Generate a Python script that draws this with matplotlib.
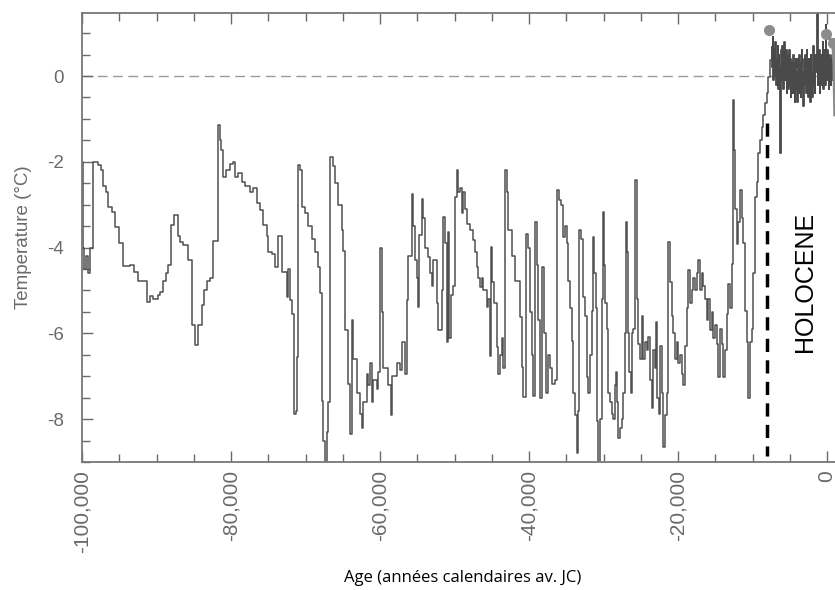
import matplotlib
matplotlib.use("Agg")
import matplotlib.pyplot as plt
from matplotlib.ticker import FuncFormatter, MultipleLocator

# Glacial part of the temperature record (years relative to present, deg C)
glacial_age = [
    -100000, -99930, -99730, -99460, -99190, -98930, -98560, -97810, -97490, -97220,
    -96780, -96470, -96010, -95570, -94990, -94540, -93560, -92980, -92440, -91320,
    -90870, -90510, -89760, -89530, -89090, -88720, -88420, -88090, -87610, -87150,
    -86850, -86400, -85730, -85280, -84830, -84390, -83930, -83620, -83260, -82820,
    -82380, -81790, -81540, -81340, -81030, -80710, -80130, -79690, -79460, -79020,
    -78560, -78120, -77450, -77010, -76550, -76110, -75660, -75210, -74990, -74540,
    -74090, -73730, -73110, -72520, -72310, -72080, -71770, -71580, -71310, -71180,
    -70970, -70740, -70510, -70070, -69620, -69170, -68720, -68280, -68050, -67830,
    -67610, -67380, -67150, -66940, -66710, -66270, -66040, -65600, -65140, -64930,
    -64700, -64260, -64030, -63800, -63580, -63130, -62680, -62460, -62240, -61790,
    -61570, -61340, -61110, -60900, -60440, -60230, -60000, -59770, -59560, -58890,
    -58560, -58430, -57760, -57310, -57090, -56640, -56420, -56200, -55740, -55530,
    -55300, -55070, -54940, -54720, -54400, -54190, -53960, -53520, -53290, -53060,
    -52850, -52390, -52170, -51720, -51590, -51270, -51050, -50910, -50700, -50510,
    -50240, -49930, -49700, -49490, -49260, -49030, -48820, -48590, -48360, -47920,
    -47480, -47250, -47020, -46810, -46580, -46350, -46140, -45680, -45470, -45240,
    -45100, -44930, -44660, -44330, -44120, -43890, -43660, -43450, -43220, -42990,
    -42780, -42320, -41880, -41210, -40980, -40760, -40440, -40090, -39860, -39640,
    -39420, -39190, -38960, -38750, -38520, -38210, -37940, -37760, -37490, -37180,
    -36950, -36510, -36280, -35970, -35700, -35390, -35170, -34940, -34720, -34500,
    -34270, -34050, -33820, -33600, -33460, -33290, -33020, -32710, -32480, -32250,
    -32040, -31810, -31580, -31450, -31240, -31010, -30830, -30700, -30470, -30240,
    -30110, -29930, -29800, -29570, -29350, -29130, -28900, -28680, -28450, -28320,
    -28140, -28010, -27780, -27560, -27330, -27110, -26980, -26800, -26660, -26530,
    -26350, -26210, -26000, -25770, -25540, -25330, -25100, -24870, -24660, -24430,
    -24200, -23980, -23760, -23530, -23310, -23080, -22950, -22780, -22590, -22410,
    -22190, -21970, -21740, -21520, -21300, -21070, -20850, -20620, -20400, -20180,
    -19960, -19730, -19500, -19290, -19060, -18830, -18620, -18390, -18170, -17940,
    -17710, -17490, -17270, -17050, -16820, -16600, -16370, -16150, -15930, -15700,
    -15480, -15260, -15030, -14800, -14590, -14360, -14130, -13920, -13690, -13460,
    -13250, -13020, -12790, -12660, -12480, -12310, -12120, -11900, -11680, -11450,
    -11230, -11000, -10780, -10560, -10330, -10110, -9890, -9660, -9440, -9220,
    -8990, -8760, -8550, -8320, -8090, -7880, -7650, -7420,
]
glacial_temp = [
    -2.0, -4.0, -4.5, -4.2, -4.6, -4.0, -2.0, -2.08, -2.2, -2.57,
    -2.7, -3.05, -3.17, -3.52, -3.9, -4.42, -4.4, -4.57, -4.77, -5.27,
    -5.14, -5.2, -5.1, -5.04, -4.77, -4.6, -4.4, -3.48, -3.25, -3.74,
    -3.87, -3.93, -4.3, -5.8, -6.28, -5.8, -5.35, -5.0, -4.77, -4.7,
    -3.85, -1.14, -1.5, -1.73, -2.35, -2.2, -2.04, -2.0, -2.35, -2.25,
    -2.47, -2.57, -2.7, -2.6, -2.97, -3.12, -3.48, -3.72, -4.1, -4.15,
    -4.46, -3.72, -4.57, -5.16, -4.5, -5.23, -5.54, -7.88, -7.8, -6.56,
    -2.08, -2.2, -3.05, -3.2, -3.49, -3.8, -4.1, -4.46, -5.07, -7.57,
    -8.5, -9.1, -8.3, -7.6, -1.88, -2.1, -2.5, -3.0, -3.6, -4.07,
    -5.93, -7.18, -8.35, -5.7, -6.6, -7.4, -7.88, -8.2, -7.6, -6.94,
    -7.2, -6.7, -7.6, -7.1, -7.3, -6.9, -4.0, -5.5, -6.8, -7.2,
    -7.9, -7.0, -6.7, -6.85, -6.2, -6.94, -5.23, -4.2, -2.74, -3.5,
    -4.3, -4.7, -5.39, -3.7, -2.86, -3.3, -4.0, -4.22, -4.6, -4.9,
    -4.3, -5.3, -5.93, -5.0, -3.29, -3.9, -6.2, -3.64, -6.1, -5.1,
    -4.9, -2.82, -2.2, -2.7, -2.6, -3.2, -2.7, -3.1, -3.44, -3.6,
    -3.83, -4.1, -4.45, -4.7, -4.92, -4.7, -5.0, -5.39, -5.2, -6.52,
    -3.99, -4.8, -5.3, -6.32, -6.94, -6.5, -6.1, -6.8, -2.2, -2.7,
    -3.6, -4.2, -4.77, -5.62, -6.79, -7.49, -3.68, -4.0, -5.5, -6.5,
    -7.45, -3.4, -4.4, -5.7, -7.5, -4.45, -6.0, -7.4, -6.5, -6.8,
    -7.18, -7.1, -2.66, -2.9, -3.0, -3.75, -3.5, -3.9, -4.77, -5.4,
    -6.17, -7.4, -7.9, -8.8, -7.8, -3.6, -3.8, -5.16, -5.6, -7.03,
    -7.4, -6.5, -5.47, -3.75, -4.6, -5.4, -8.04, -9.1, -8.0, -5.2,
    -3.17, -4.4, -5.3, -5.9, -7.4, -7.6, -7.88, -8.0, -7.2, -6.9,
    -7.6, -8.43, -8.2, -8.0, -7.4, -6.0, -3.4, -4.1, -6.0, -6.9,
    -7.4, -6.0, -5.9, -2.43, -5.2, -6.24, -6.6, -5.6, -6.6, -6.2,
    -6.4, -6.09, -7.1, -7.73, -6.4, -6.8, -5.74, -7.5, -7.88, -6.3,
    -7.4, -8.66, -7.9, -7.4, -3.87, -4.8, -5.6, -6.0, -6.6, -6.2,
    -6.7, -6.5, -6.94, -7.2, -6.3, -5.4, -4.53, -5.3, -5.0, -4.7,
    -5.0, -4.6, -4.3, -5.0, -4.6, -4.9, -5.2, -5.7, -5.2, -5.93,
    -5.5, -6.1, -5.8, -6.24, -7.03, -5.9, -6.24, -7.03, -6.4, -5.55,
    -4.84, -5.4, -4.38, -0.56, -1.73, -3.1, -3.91, -3.4, -2.66, -3.3,
    -3.9, -5.47, -6.2, -7.5, -6.2, -5.9, -4.6, -2.82, -2.48, -1.8,
    -1.5, -1.19, -0.9, -0.64, -0.4, -0.02, 0.37, 0.68,
]

# Holocene part of the record, sampled much more densely
holocene_age = [
    -7340, -7270, -7200, -7130, -7060, -6990, -6920, -6850, -6780, -6710,
    -6640, -6570, -6500, -6430, -6360, -6300, -6240, -6170, -6100, -6030,
    -5960, -5890, -5820, -5750, -5680, -5610, -5540, -5470, -5400, -5330,
    -5260, -5190, -5120, -5050, -4980, -4910, -4840, -4770, -4700, -4630,
    -4560, -4490, -4420, -4350, -4280, -4210, -4140, -4070, -4000, -3930,
    -3860, -3790, -3720, -3650, -3580, -3510, -3440, -3370, -3300, -3230,
    -3160, -3090, -3020, -2950, -2880, -2810, -2740, -2670, -2600, -2530,
    -2460, -2390, -2320, -2250, -2180, -2110, -2040, -1970, -1900, -1830,
    -1760, -1690, -1620, -1550, -1480, -1400, -1340, -1270, -1200, -1130,
    -1060, -990, -920, -850, -780, -710, -640, -570, -500, -430,
    -360, -290, -220, -150, -80, -10, 60, 130, 200, 270,
    340, 410, 480, 550, 620, 690, 760, 830, 900, 970,
]
holocene_temp = [
    0.2, 0.9, -0.1, 0.6, 0.0, 0.5, 0.8, -0.2, 0.4, 0.1,
    0.7, -0.3, 0.5, 0.2, -0.4, -1.8, 0.3, 0.6, -0.1, 0.7,
    0.1, -0.3, 0.4, 0.8, -0.1, 0.5, 0.0, 0.6, -0.4, 0.3,
    0.5, -0.3, 0.2, 0.6, -0.2, 0.4, -0.5, 0.3, 0.1, -0.4,
    0.5, -0.2, 0.3, -0.6, 0.2, 0.4, -0.3, 0.1, -0.6, 0.4,
    0.2, -0.4, 0.5, -0.1, 0.3, -0.5, 0.2, 0.6, -0.3, 0.1,
    -0.7, 0.4, -0.2, 0.5, 0.0, -0.4, 0.6, -0.3, 0.2, -0.5,
    0.4, -0.1, 0.3, -0.6, 0.5, -0.2, 0.1, -0.5, 0.4, 0.7,
    -0.2, 0.3, -0.4, 0.5, 0.1, 0.6, 1.5, -0.2, 0.4, 0.0,
    0.6, -0.4, 0.3, 0.5, -0.2, 0.4, 0.1, 0.8, -0.3, 0.5,
    0.0, 0.6, -0.2, 1.2, 0.3, -0.1, 0.6, 0.2, -0.3, 0.5,
    0.0, 0.4, -0.2, 0.3, 0.1, 0.5, -0.1, 0.3, 0.0, 0.2,
]

# Highlighted points and the recent curve running off the right edge
dot_age = [-7800, -130, 810]
dot_temp = [1.07, 0.98, 0.77]
recent_age = [-130, 810, 950, 1070]
recent_temp = [0.98, 0.77, 0.3, -0.9]

holocene_start = -8000
tick_grey = "#6a6a6a"


def thousands(x, pos):
    return f"{x:,.0f}".replace("\u2212", "-")


def plain_int(y, pos):
    return f"{y:.0f}".replace("\u2212", "-")


def main() -> None:
    fig = plt.figure(figsize=(8.35, 5.9), dpi=100)
    ax = fig.add_axes([0.0982, 0.217, 0.9018, 0.761])

    ax.axhline(0, color="#9a9a9a", lw=1.0, dashes=(7, 4), zorder=1)

    # glacial steps, then the denser Holocene steps joined on from the last value
    ax.plot(glacial_age, glacial_temp, drawstyle="steps-post",
            color="#505050", lw=1.1, zorder=2)
    ax.plot([glacial_age[-1]] + holocene_age,
            [glacial_temp[-1]] + holocene_temp,
            drawstyle="steps-post", color="#4a4a4a", lw=1.3, zorder=2)
    ax.plot(recent_age, recent_temp, color="#8c8c8c", lw=2.5, zorder=3)
    ax.plot(dot_age, dot_temp, ls="none", marker="o", ms=7,
            color="#8c8c8c", zorder=4)

    ax.plot([holocene_start, holocene_start], [-1.1, -8.85], color="black",
            lw=2.5, dashes=(3.8, 2.4), zorder=5)
    ax.text(-2950, -4.8, "HOLOCENE", rotation=90, ha="center", va="center",
            fontsize=18, family="Liberation Sans", color="black")

    ax.set_xlim(-100000, 1070)
    ax.set_ylim(-9, 1.47)

    ax.xaxis.set_major_locator(MultipleLocator(20000))
    ax.xaxis.set_minor_locator(MultipleLocator(5000))
    ax.yaxis.set_major_locator(MultipleLocator(2))
    ax.yaxis.set_minor_locator(MultipleLocator(0.5))
    ax.xaxis.set_major_formatter(FuncFormatter(thousands))
    ax.yaxis.set_major_formatter(FuncFormatter(plain_int))

    ax.tick_params(which="both", direction="in", top=True, right=False,
                   color=tick_grey, width=1.0)
    ax.tick_params(which="major", length=8)
    ax.tick_params(which="minor", length=6)
    ax.tick_params(axis="x", labelrotation=90, labelsize=15, pad=6,
                   labelcolor=tick_grey)
    ax.tick_params(axis="y", labelsize=13.5, pad=13, labelcolor=tick_grey)
    for lab in ax.get_xticklabels() + ax.get_yticklabels():
        lab.set_family("Liberation Sans")

    for side in ("left", "bottom", "top"):
        ax.spines[side].set_color("#777777")
        ax.spines[side].set_linewidth(1.3)
    ax.spines["right"].set_visible(False)

    ax.set_ylabel("Temperature (°C)", fontsize=13.5, color=tick_grey,
                  family="Liberation Sans")
    ax.yaxis.set_label_coords(-0.066, 0.5)
    ax.set_xlabel("Age (années calendaires av. JC)", fontsize=12,
                  color="black", family="Open Sans")
    ax.xaxis.set_label_coords(0.506, -0.24)

    fig.savefig("out.png", dpi=100)
    plt.close(fig)


if __name__ == "__main__":
    main()
